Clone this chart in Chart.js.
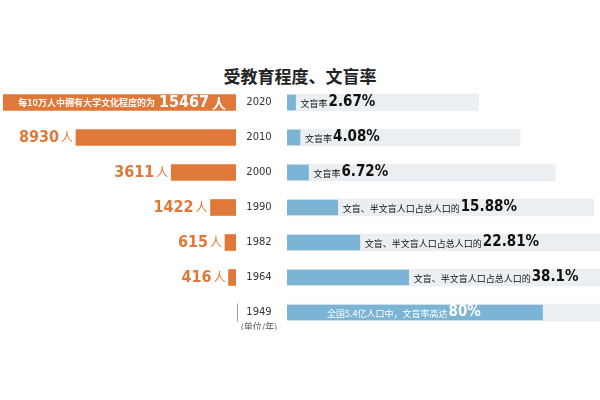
<!DOCTYPE html>
<html><head><meta charset="utf-8">
<script src="https://cdn.jsdelivr.net/npm/chart.js@4"></script>
<style>
body{margin:0;width:600px;height:400px;background:#fff;position:relative;overflow:hidden;font-family:"Noto Sans CJK SC",sans-serif}
#t{position:absolute;left:0;width:600px;top:63px;text-align:center;font-size:17px;font-weight:bold;color:#222}
#l{position:absolute;left:0;top:85px}
#r{position:absolute;left:235px;top:85px}
</style></head><body>
<div id="t">受教育程度、文盲率</div>
<canvas id="l" width="240" height="245"></canvas>
<canvas id="r" width="365" height="245"></canvas>
<script>
const years=["2020","2010","2000","1990","1982","1964","1949"];
const college=[15467,8930,3611,1422,615,416,null];
const illiteracy=[2.67,4.08,6.72,15.88,22.81,38.1,80];
const illitPrefix=["文盲率","文盲率","文盲率","文盲、半文盲人口占总人口的","文盲、半文盲人口占总人口的","文盲、半文盲人口占总人口的","全国5.4亿人口中，文盲率高达"];
const track=[60,73,84,96,98,98,98];
const CF='"Noto Sans CJK SC",sans-serif';
const ORANGE='#e0783a',BLUE='#7bb4d4',GRAY='#eceff1';

new Chart(document.getElementById('l'),{type:'bar',
 data:{labels:years,datasets:[{data:college,backgroundColor:ORANGE,barThickness:16}]},
 options:{indexAxis:'y',responsive:false,animation:false,layout:{padding:{left:3,right:4}},
  plugins:{legend:{display:false},tooltip:{enabled:false}},
  scales:{x:{display:false,reverse:true,min:0,max:13000},y:{display:false}}},
 plugins:[{id:'lbl',afterDatasetsDraw(c){const x=c.ctx;const m=c.getDatasetMeta(0);
  m.data.forEach((b,i)=>{if(college[i]==null)return;x.save();x.textBaseline='middle';
   if(i===0){x.fillStyle='#fff';x.font='bold 14px '+CF;x.textAlign='right';
     x.fillText('人',226,b.y);const w=x.measureText('人').width;
     x.font='bold 16px "DejaVu Sans Condensed",sans-serif';x.fillText(college[i],223-w,b.y);
     const w2=x.measureText(String(college[i])).width;
     x.font='bold 9px '+CF;x.fillText('每10万人中拥有大学文化程度的为',219-w-w2,b.y);}
   else{x.fillStyle=ORANGE;x.textAlign='right';x.font='12px '+CF;x.fillText('人',b.x-3,b.y);
     const w=x.measureText('人').width;x.font='bold 16px "DejaVu Sans Condensed",sans-serif';
     x.fillText(college[i],b.x-5-w,b.y);}
   x.restore();});}}]
});

new Chart(document.getElementById('r'),{type:'bar',
 data:{labels:years,datasets:[
  {data:illiteracy,backgroundColor:BLUE,barThickness:15,grouped:false,order:0},
  {data:track,backgroundColor:GRAY,barThickness:17,grouped:false,order:1}]},
 options:{indexAxis:'y',responsive:false,animation:false,layout:{padding:{left:52}},
  plugins:{legend:{display:false},tooltip:{enabled:false}},
  scales:{x:{display:false,min:0,max:98},y:{display:false}}},
 plugins:[{id:'lbl2',afterDatasetsDraw(c){const x=c.ctx;const m=c.getDatasetMeta(0);
  m.data.forEach((b,i)=>{x.save();x.textBaseline='middle';x.textAlign='center';
   x.fillStyle='#333';x.font='10px "DejaVu Sans"';x.fillText(years[i],24,b.y);
   x.textAlign='left';
   const inside=i===6;x.fillStyle=inside?'#fff':'#111';
   let sx=inside?c.chartArea.left+40:b.x+5;
   x.font='9px '+CF;x.fillText(illitPrefix[i],sx,b.y+1);sx+=x.measureText(illitPrefix[i]).width+1;
   x.font='bold 15px "DejaVu Sans Condensed",sans-serif';x.fillText(illiteracy[i]+'%',sx,b.y);
   x.restore();});
  const b6=m.data[6];x.save();x.fillStyle='#999';x.fillRect(2,b6.y-9,1,18);
  x.fillStyle='#555';x.font='9px '+CF;x.textAlign='center';x.fillText('(单位/年)',24,b6.y+17);x.restore();}}]
});
</script></body></html>
